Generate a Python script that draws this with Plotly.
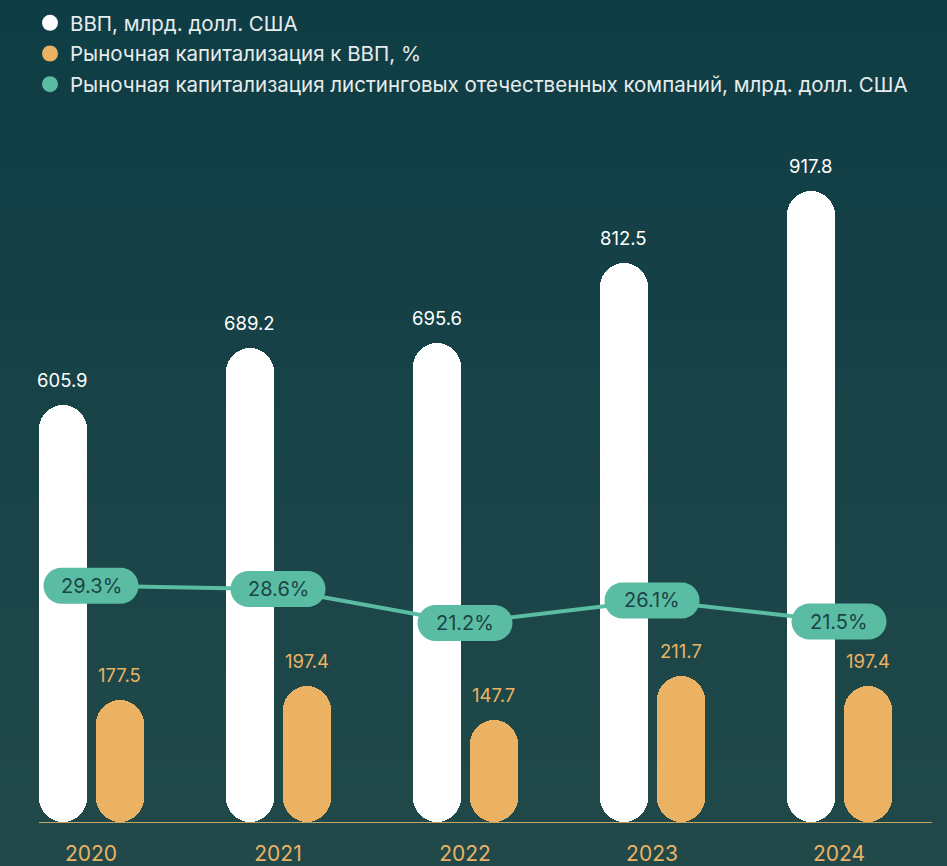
import plotly.graph_objects as go

years = ["2020", "2021", "2022", "2023", "2024"]
gdp = [605.9, 689.2, 695.6, 812.5, 917.8]
market_cap = [177.5, 197.4, 147.7, 211.7, 197.4]
cap_to_gdp = [29.3, 28.6, 21.2, 26.1, 21.5]

legend_names = [
    "ВВП, млрд. долл. США",
    "Рыночная капитализация к ВВП, %",
    "Рыночная капитализация листинговых отечественных компаний, млрд. долл. США",
]

WHITE = "#ffffff"
ORANGE = "#ebb263"
TEAL = "#5bbca4"
FONT = "Inter"

# geometry (px)
W, H = 947, 866
ML, MR, MT, MB = 39, 15, 130, 44
plot_w = W - ML - MR
plot_h = H - MT - MB
px_per_cat = 187
first_center = 91
px_per_unit = 0.688
bar_px = 48
off_px = 28.5

xr = [(ML - first_center) / px_per_cat, (W - MR - first_center) / px_per_cat]
yr = [0, plot_h / px_per_unit]
bw = bar_px / px_per_cat
off = off_px / px_per_cat

xs = list(range(len(years)))
x_gdp = [x - off for x in xs]
x_cap = [x + off for x in xs]

fig = go.Figure()

# background gradient
top_c = (15, 61, 69)
bot_c = (33, 73, 73)
n = 40
y_top = 1 + MT / plot_h + 0.01
y_bot = -MB / plot_h - 0.01
for i in range(n):
    t = i / (n - 1)
    c = tuple(int(round(top_c[k] + (bot_c[k] - top_c[k]) * t)) for k in range(3))
    fig.add_shape(type="rect", xref="paper", yref="paper", layer="below",
                  x0=-0.1, x1=1.1,
                  y0=y_top - (y_top - y_bot) * (i + 1) / n - 0.002,
                  y1=y_top - (y_top - y_bot) * i / n,
                  fillcolor="rgb(%d,%d,%d)" % c, line_width=0)

# base set explicitly -> plotly rounds both ends of the bar
for xv, vals, col in [(x_gdp, gdp, WHITE), (x_cap, market_cap, ORANGE)]:
    fig.add_trace(go.Bar(x=xv, y=vals, base=0, width=bw,
                         marker=dict(color=col, cornerradius=bar_px // 2, line_width=0),
                         showlegend=False, hoverinfo="skip"))

fig.add_trace(go.Scatter(x=xs, y=cap_to_gdp, yaxis="y2", mode="lines",
                         line=dict(color=TEAL, width=4), showlegend=False, hoverinfo="skip"))

for name, col in zip(legend_names, [WHITE, ORANGE, TEAL]):
    fig.add_trace(go.Scatter(x=[None], y=[None], mode="markers", name=name, legendgroup=name,
                             marker=dict(size=22, color=col)))

# value labels
for xv, vals, col in [(x_gdp, gdp, WHITE), (x_cap, market_cap, ORANGE)]:
    for x, v in zip(xv, vals):
        fig.add_annotation(x=x, y=v, text="%.1f" % v, showarrow=False, yshift=25,
                           font=dict(family=FONT, size=18.5, color=col))

# pills on the line
cx, rr = 29.5, 18
k = 0.5523 * rr
pill = ("M %s,%s H %s C %s,%s %s,%s %s,0 C %s,%s %s,%s %s,%s H %s "
        "C %s,%s %s,%s %s,0 C %s,%s %s,%s %s,%s Z") % (
    -cx, -rr, cx, cx + k, -rr, cx + rr, -k, cx + rr, cx + rr, k, cx + k, rr, cx, rr, -cx,
    -cx - k, rr, -cx - rr, k, -cx - rr, -cx - rr, -k, -cx - k, -rr, -cx, -rr)
for x, v in zip(xs, cap_to_gdp):
    fig.add_shape(type="path", path=pill, xref="x", yref="y2", xsizemode="pixel",
                  ysizemode="pixel", xanchor=x, yanchor=v, fillcolor=TEAL, line_width=0,
                  layer="above")
    fig.add_annotation(x=x, y=v, yref="y2", text="%.1f%%" % v, showarrow=False,
                       font=dict(family=FONT, size=20, color="#1b4446"))

fig.update_layout(
    width=W, height=H,
    margin=dict(l=ML, r=MR, t=MT, b=MB, autoexpand=False),
    paper_bgcolor="#184549",
    plot_bgcolor="rgba(0,0,0,0)",
    font=dict(family=FONT, color="#e6ecec"),
    bargap=0, barmode="overlay",
    legend=dict(x=(30 - ML) / plot_w, xanchor="left", y=1 + (MT - 3) / plot_h, yanchor="top",
                font=dict(family=FONT, size=20.5, color="#e6ecec"), bgcolor="rgba(0,0,0,0)",
                traceorder="grouped", tracegroupgap=1),
    xaxis=dict(range=xr, tickmode="array", tickvals=xs, ticktext=years, showgrid=False,
               zeroline=False, showline=True, linecolor="#c9a664", linewidth=1,
               ticks="outside", ticklen=13, tickcolor="rgba(0,0,0,0)",
               tickfont=dict(family=FONT, size=21, color=ORANGE), fixedrange=True),
    yaxis=dict(range=yr, visible=False, fixedrange=True),
    yaxis2=dict(range=[-22.26, 128.8], overlaying="y", visible=False, fixedrange=True),
)

fig.write_html("out.html", config={"displayModeBar": False},
               post_script="document.body.style.margin='0';")
